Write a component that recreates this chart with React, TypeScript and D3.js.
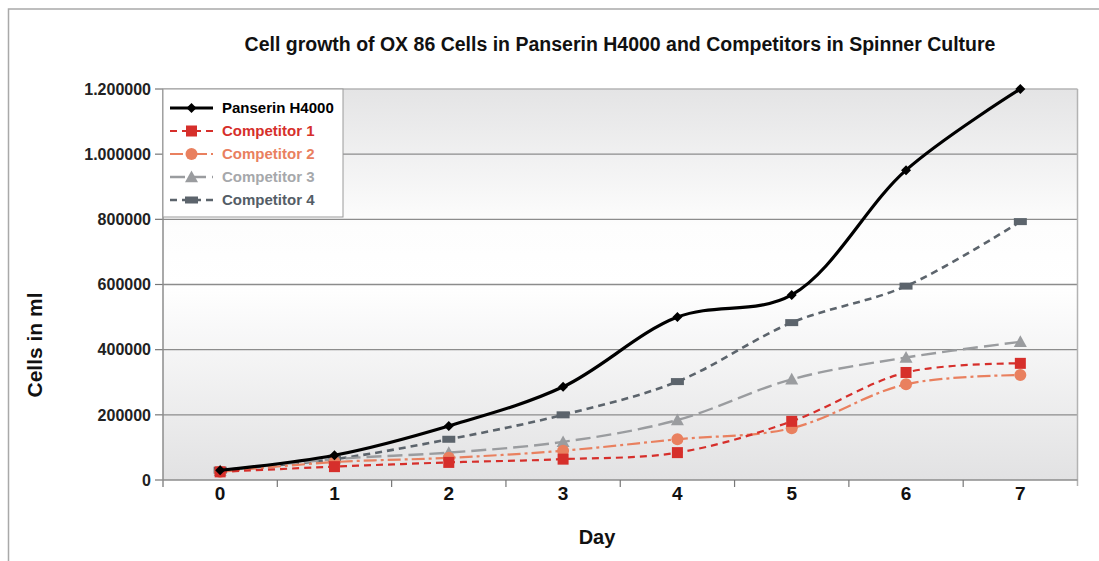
import React from "react";
import * as d3 from "d3";

const days = ["0", "1", "2", "3", "4", "5", "6", "7"];
const yTicks = [0, 200000, 400000, 600000, 800000, 1000000, 1200000];
const yTickLabels = ["0", "200000", "400000", "600000", "800000", "1.000000", "1.200000"];

const seriesNames = ["Panserin H4000", "Competitor 1", "Competitor 2", "Competitor 3", "Competitor 4"];
const panserin = [30000, 76000, 166000, 286000, 500000, 568000, 951000, 1200000];
const competitor1 = [25000, 41000, 54000, 64000, 84000, 180000, 330000, 358000];
const competitor2 = [25000, 55000, 68000, 90000, 125000, 159000, 294000, 322000];
const competitor3 = [28000, 64000, 84000, 117000, 184000, 309000, 376000, 424000];
const competitor4 = [30000, 64000, 125000, 200000, 302000, 483000, 595000, 793000];

const W = 1099, H = 561;
const M = { left: 163, right: 1077.5, top: 89, bottom: 480 };
const FONT = "'Liberation Sans', Arial, sans-serif";

type Style = { color: string; text: string; width: number; dash: string; marker: string };
const styles: Style[] = [
  { color: "#000000", text: "#000000", width: 3.2, dash: "", marker: "diamond" },
  { color: "#d62f2b", text: "#d62f2b", width: 2.2, dash: "7,5", marker: "square" },
  { color: "#e9805f", text: "#e9805f", width: 2.2, dash: "13,4,3,4", marker: "circle" },
  { color: "#9a9c9f", text: "#a6a8ab", width: 2.4, dash: "15,6", marker: "triangle" },
  { color: "#5c646c", text: "#545d66", width: 2.6, dash: "7,5", marker: "rect" },
];
const allData = [panserin, competitor1, competitor2, competitor3, competitor4];

function Marker({ type, x, y, color }: { type: string; x: number; y: number; color: string }) {
  if (type === "diamond") {
    const s = 5;
    return <path d={`M${x},${y - s}L${x + s},${y}L${x},${y + s}L${x - s},${y}Z`} fill={color} />;
  }
  if (type === "square") return <rect x={x - 5.5} y={y - 5.5} width={11} height={11} fill={color} />;
  if (type === "circle") return <circle cx={x} cy={y} r={6} fill={color} />;
  if (type === "triangle") {
    const s = 6.5;
    return <path d={`M${x},${y - s}L${x + s},${y + s * 0.8}L${x - s},${y + s * 0.8}Z`} fill={color} />;
  }
  return <rect x={x - 6.5} y={y - 3.5} width={13} height={7} fill={color} />;
}

export default function App() {
  const x = d3.scaleBand<string>().domain(days).range([M.left, M.right]);
  const y = d3.scaleLinear().domain([0, 1200000]).range([M.bottom, M.top]);
  const cx = (d: string) => (x(d) as number) + x.bandwidth() / 2;
  const line = d3
    .line<number>()
    .x((_, i) => cx(days[i]))
    .y((v) => y(v))
    .curve(d3.curveCatmullRom.alpha(0.5));

  const boundaries = days.map((d) => x(d) as number).concat([M.right]);

  return (
    <svg
      width={W}
      height={H}
      style={{ position: "absolute", left: 0, top: 0, background: "#fff" }}
      fontFamily={FONT}
    >
      <defs>
        <linearGradient id="bg" x1="0" y1="0" x2="0" y2="1">
          <stop offset="0" stopColor="#e4e4e5" />
          <stop offset="0.35" stopColor="#fdfdfd" />
          <stop offset="0.5" stopColor="#ffffff" />
          <stop offset="1" stopColor="#e2e2e3" />
        </linearGradient>
      </defs>
      <rect x={8.5} y={9} width={W + 10} height={H + 10} fill="#fff" stroke="#a9a9a9" strokeWidth={1.5} />
      <text x={620} y={51} textAnchor="middle" fontSize={19.5} fontWeight="bold" fill="#111">
        Cell growth of OX 86 Cells in Panserin H4000 and Competitors in Spinner Culture
      </text>

      <rect x={M.left} y={M.top} width={M.right - M.left} height={M.bottom - M.top} fill="url(#bg)" />
      {yTicks.map((t, i) => (
        <g key={t}>
          {t > 0 && (
            <line x1={M.left} x2={M.right} y1={y(t)} y2={y(t)} stroke={t === 1200000 ? "#b5b5b5" : "#8c8c8c"} strokeWidth={1.4} />
          )}
          <line x1={M.left - 8} x2={M.left} y1={y(t)} y2={y(t)} stroke="#777" strokeWidth={1.2} />
          <text x={151} y={y(t)} dy="0.36em" textAnchor="end" fontSize={16} fontWeight="bold" fill="#222">
            {yTickLabels[i]}
          </text>
        </g>
      ))}
      <line x1={M.right} x2={M.right} y1={M.top} y2={M.bottom + 6} stroke="#b3b3b3" strokeWidth={1.5} />
      <line x1={M.left} x2={M.left} y1={M.top} y2={M.bottom + 7} stroke="#8c8c8c" strokeWidth={1.5} />
      <line x1={M.left} x2={M.right} y1={M.bottom} y2={M.bottom} stroke="#8c8c8c" strokeWidth={1.5} />
      {boundaries.slice(1, -1).map((b, i) => (
        <line key={i} x1={b} x2={b} y1={M.bottom} y2={M.bottom + 7} stroke="#777" strokeWidth={1.2} />
      ))}
      {days.map((d) => (
        <text key={d} x={cx(d)} y={500} textAnchor="middle" fontSize={19} fontWeight="bold" fill="#111">
          {d}
        </text>
      ))}
      <text x={597} y={544} textAnchor="middle" fontSize={20} fontWeight="bold" fill="#111">
        Day
      </text>
      <text transform="translate(42,345) rotate(-90)" textAnchor="middle" fontSize={21} fontWeight="bold" fill="#111">
        Cells in ml
      </text>

      {[4, 3, 2, 1, 0].map((si) => (
        <g key={si}>
          <path d={line(allData[si]) || ""} fill="none" stroke={styles[si].color} strokeWidth={styles[si].width} strokeDasharray={styles[si].dash} />
          {allData[si].map((v, i) => (
            <Marker key={i} type={styles[si].marker} x={cx(days[i])} y={y(v)} color={styles[si].color} />
          ))}
        </g>
      ))}

      <rect x={M.left} y={M.top} width={180} height={128} fill="#fff" stroke="#9a9a9a" strokeWidth={1} />
      {seriesNames.map((n, i) => {
        const ly = 108 + i * 23;
        return (
          <g key={n}>
            <line x1={170} x2={213} y1={ly} y2={ly} stroke={styles[i].color} strokeWidth={styles[i].width} strokeDasharray={styles[i].dash} />
            <Marker type={styles[i].marker} x={191.5} y={ly} color={styles[i].color} />
            <text x={222} y={ly} dy="0.36em" fontSize={15} fontWeight="bold" fill={styles[i].text}>
              {n}
            </text>
          </g>
        );
      })}
    </svg>
  );
}
